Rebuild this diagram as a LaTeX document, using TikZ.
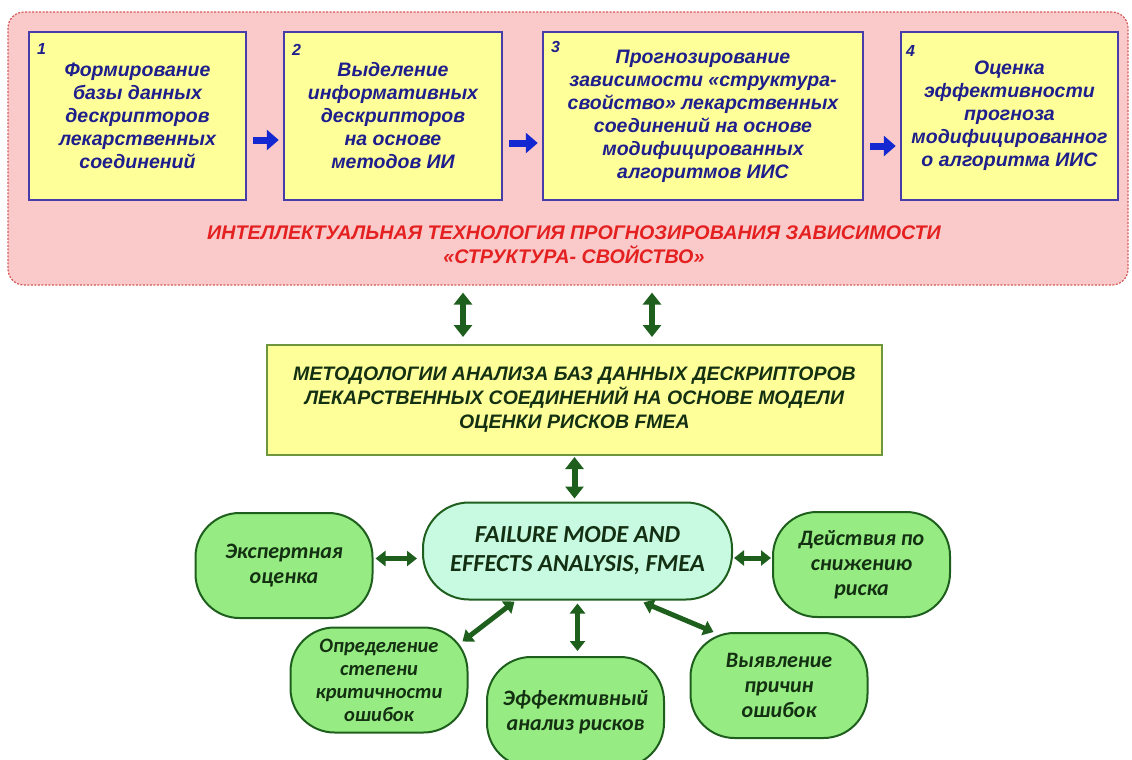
\documentclass[tikz,border=0pt]{standalone}
\usepackage{fontspec}
\setmainfont{Liberation Sans}
\newfontfamily\calib{Carlito}
\usetikzlibrary{arrows.meta,calc}

\definecolor{pinkbg}{RGB}{250,202,202}
\definecolor{pinkline}{RGB}{215,90,90}
\definecolor{paleyellow}{RGB}{255,255,153}
\definecolor{boxblue}{RGB}{70,60,170}
\definecolor{textblue}{RGB}{30,30,140}
\definecolor{arrowblue}{RGB}{20,40,210}
\definecolor{titlered}{RGB}{228,32,32}
\definecolor{olivegreen}{RGB}{110,150,60}
\definecolor{darkgreen}{RGB}{30,95,30}
\definecolor{textgreen}{RGB}{20,48,18}
\definecolor{mint}{RGB}{200,250,226}
\definecolor{leaf}{RGB}{150,236,130}

\begin{document}
\begin{tikzpicture}[x=1pt,y=-1pt,semithick]
	\tikzstyle{stage}=[draw=boxblue,line width=2.5pt,fill=paleyellow,text=textblue,inner sep=0pt,
		minimum height=168pt,align=center,font=\fontsize{19.5}{23}\selectfont\bfseries\itshape]
	\tikzstyle{stagenum}=[anchor=north west,text=textblue,inner sep=0pt,
		font=\fontsize{16}{16}\selectfont\bfseries\itshape]
	\tikzstyle{bluearrow}=[draw=arrowblue,line width=7pt,-{Triangle[width=20pt,length=12pt]},
		shorten <=6pt,shorten >=4pt]
	\tikzstyle{bigdbl}=[draw=darkgreen,line width=6pt,
		{Triangle[width=18pt,length=12pt]}-{Triangle[width=18pt,length=12pt]}]
	\tikzstyle{dbl}=[draw=darkgreen,line width=5pt,
		{Triangle[width=15pt,length=10pt]}-{Triangle[width=15pt,length=10pt]}]
	\tikzstyle{leafnode}=[draw=darkgreen,line width=2pt,fill=leaf,text=textgreen,rounded corners=44pt,
		minimum width=177pt,minimum height=105pt,align=center,
		font=\calib\fontsize{22}{25}\selectfont\bfseries\itshape]

	\useasboundingbox (0,0) rectangle (1132,760);

	% upper block
	\node[draw=pinkline,dash pattern=on 2pt off 1.5pt,line width=1.2pt,fill=pinkbg,rounded corners=16pt,
		minimum width=1120pt,minimum height=273pt] (tech) at (568,148.5) {};

	\node[stage,minimum width=217pt] (s1) at (137.5,116) {Формирование\\базы данных\\дескрипторов\\лекарственных\\соединений};
	\node[stage,minimum width=218pt] (s2) at (393,116) {Выделение\\информативных\\дескрипторов\\на основе\\методов ИИ};
	\node[stage,minimum width=320pt] (s3) at (703,116) {Прогнозирование\\зависимости «структура-\\свойство» лекарственных\\соединений на основе\\модифицированных\\алгоритмов ИИС};
	\node[stage,minimum width=217pt] (s4) at (1009.5,116) {Оценка\\эффективности\\прогноза\\модифицированног\\о алгоритма ИИС};

	\node[stagenum] (n1) at ($(s1.north west)+(9,12)$) {1};
	\node[stagenum] (n2) at ($(s2.north west)+(9,13)$) {2};
	\node[stagenum] (n3) at ($(s3.north west)+(9,10)$) {3};
	\node[stagenum] (n4) at ($(s4.north west)+(6,14)$) {4};

	\draw[bluearrow] ([yshift=-24pt]s1.east) -- ([yshift=-24pt]s1.east -| s2.west);
	\draw[bluearrow] ([yshift=-27pt]s2.east) -- ([yshift=-27pt]s2.east -| s3.west);
	\draw[bluearrow] ([yshift=-30pt]s3.east) -- ([yshift=-30pt]s3.east -| s4.west);

	\node[text=titlered,align=center,font=\fontsize{19.7}{24}\selectfont\bfseries\itshape] (title) at (574,245)
		{ИНТЕЛЛЕКТУАЛЬНАЯ ТЕХНОЛОГИЯ ПРОГНОЗИРОВАНИЯ ЗАВИСИМОСТИ\\«СТРУКТУРА- СВОЙСТВО»};

	% methodology
	\node[draw=olivegreen,line width=2pt,fill=paleyellow,text=textgreen,minimum width=615pt,minimum height=110pt,
		align=center,font=\fontsize{19.5}{24}\selectfont\bfseries\itshape] (metod) at (574.5,400)
		{МЕТОДОЛОГИИ АНАЛИЗА БАЗ ДАННЫХ ДЕСКРИПТОРОВ\\ЛЕКАРСТВЕННЫХ СОЕДИНЕНИЙ НА ОСНОВЕ МОДЕЛИ\\ОЦЕНКИ РИСКОВ FMEA};

	\draw[bigdbl,shorten <=7pt,shorten >=7pt] ([xshift=-105pt]tech.south) -- ([xshift=-105pt]tech.south |- metod.north);
	\draw[bigdbl,shorten <=7pt,shorten >=7pt] ([xshift=84pt]tech.south) -- ([xshift=84pt]tech.south |- metod.north);

	% FMEA and its parts
	\node[draw=darkgreen,line width=2pt,fill=mint,text=textgreen,rounded corners=46pt,minimum width=309pt,
		minimum height=97pt,align=center,font=\calib\fontsize{24.5}{29}\selectfont\bfseries\itshape] (fmea) at (577.5,551)
		{FAILURE MODE AND\\EFFECTS ANALYSIS, FMEA};

	\draw[bigdbl,shorten <=1pt,shorten >=3pt] (metod.south) -- (metod.south |- fmea.north);

	\node[leafnode] (eksp) at (284,565.5) {Экспертная\\оценка};
	\node[leafnode] (deist) at (861.5,564.5) {Действия по\\снижению\\риска};
	\node[leafnode,font=\calib\fontsize{20.5}{23}\selectfont\bfseries\itshape] (opred) at (379,680) {Определение\\степени\\критичности\\ошибок};
	\node[leafnode,minimum height=110pt] (effekt) at (575.5,712) {Эффективный\\анализ рисков};
	\node[leafnode] (vyyav) at (779,685.5) {Выявление\\причин\\ошибок};

	\draw[dbl,shorten <=2pt,shorten >=5pt] ([yshift=7pt]eksp.east) -- ([yshift=7pt]eksp.east -| fmea.west);
	\draw[dbl,shorten <=1pt,shorten >=1pt] ([yshift=-7pt]fmea.east) -- ([yshift=-7pt]fmea.east -| deist.west);
	\draw[dbl] ($(fmea.south)+(-63,1)$) -- ($(opred.north east)+(-6,15)$);
	\draw[dbl,shorten <=3pt,shorten >=5pt] (fmea.south) -- (fmea.south |- effekt.north);
	\draw[dbl] ($(fmea.south)+(66,2)$) -- ($(vyyav.north west)+(24,0)$);
\end{tikzpicture}
\end{document}
